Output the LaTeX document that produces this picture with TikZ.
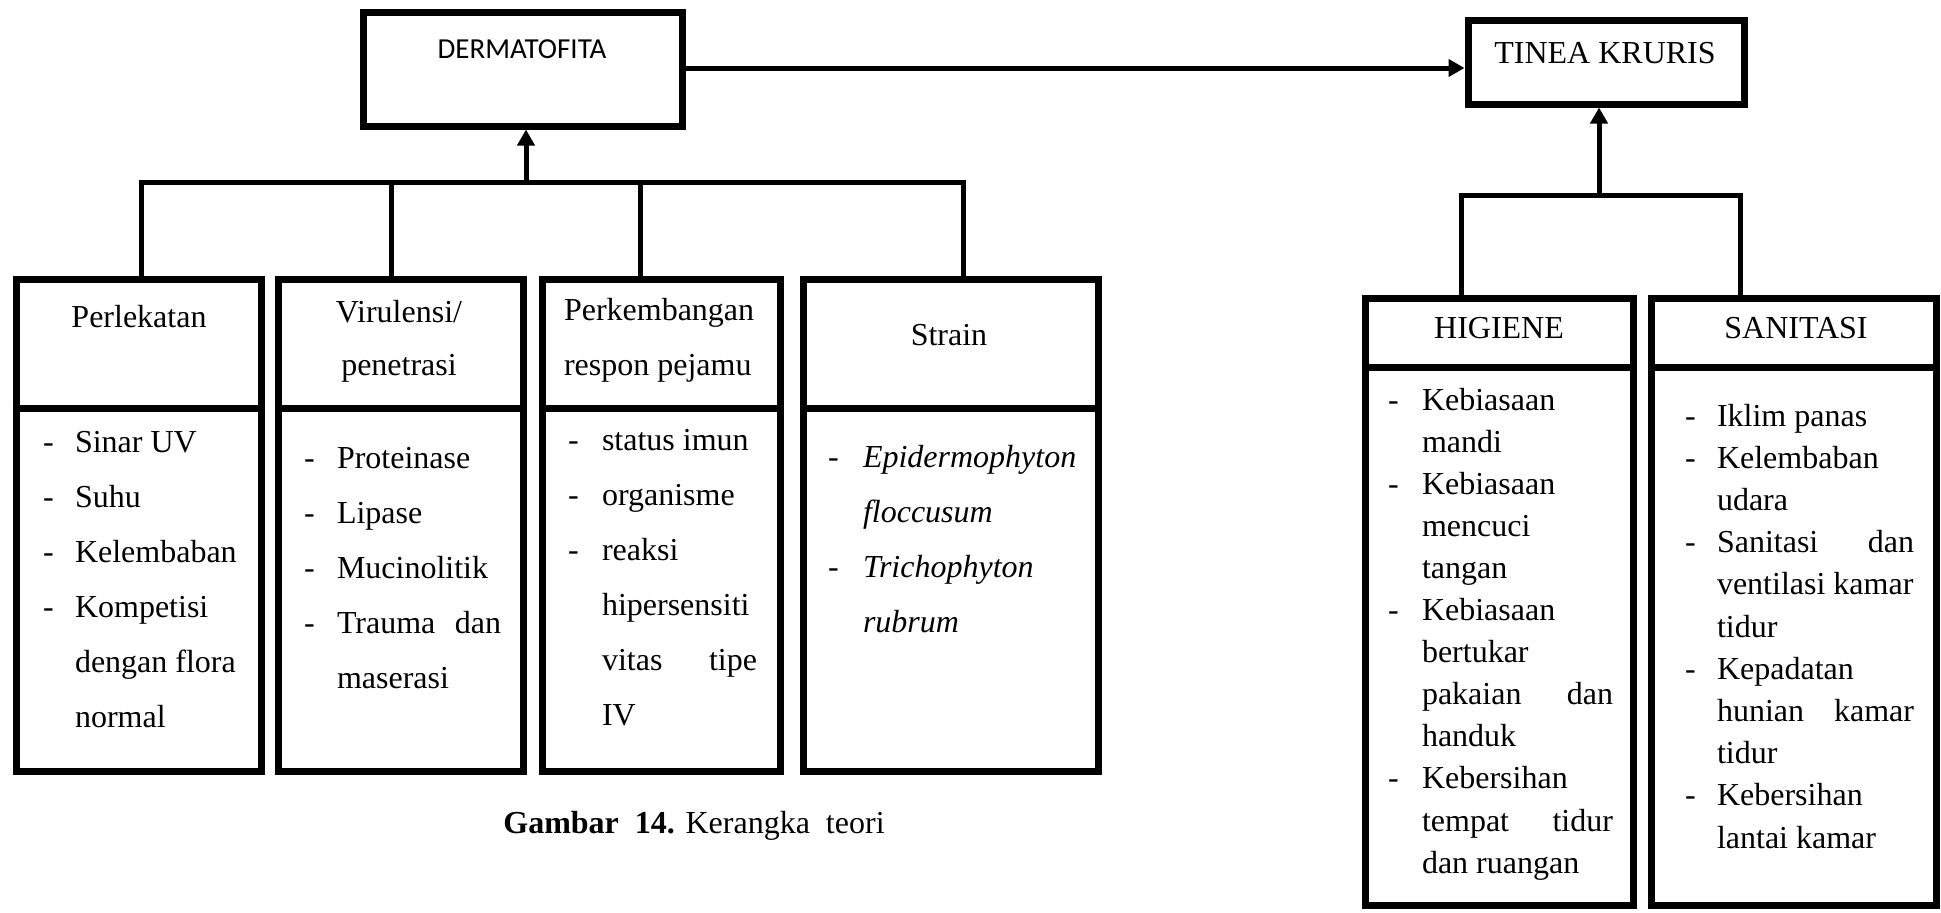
\documentclass[tikz,border=0pt]{standalone}
\usepackage{fontspec}
\setmainfont{Liberation Serif}
\newfontfamily\calib{Carlito}
\usetikzlibrary{arrows.meta}
\tikzset{
  boxframe/.style={draw=black, line width=3.5pt, inner sep=0pt, rectangle},
  divline/.style={draw=black, line width=3.5pt},
  conn/.style={draw=black, line width=2.5pt},
  arrconn/.style={conn, -{Triangle[length=8pt,width=8.5pt]}},
  txt/.style={inner sep=0pt, outer sep=0pt, anchor=base west, font=\fontsize{16pt}{18pt}\selectfont},
  txtc/.style={txt, anchor=base},
  txte/.style={txt, anchor=base east},
  itl/.style={txt, font=\fontsize{16pt}{18pt}\selectfont\itshape}
}
\begin{document}
\begin{tikzpicture}[x=0.5pt, y=-0.5pt]
\useasboundingbox (0,0) rectangle (1941,912);
\fill[white] (0,0) rectangle (1941,912);

% ---------- boxes ----------
\node[boxframe, minimum width=159.5pt, minimum height=57pt] (derm) at (522.5,69) {};
\node[boxframe, minimum width=138pt, minimum height=42pt] (tinea) at (1606,62) {};
\node[boxframe, minimum width=122.5pt, minimum height=246pt] (perl) at (138.5,525) {};
\node[boxframe, minimum width=122.5pt, minimum height=246pt] (viru) at (400.5,525) {};
\node[boxframe, minimum width=119pt, minimum height=246pt] (perk) at (661,525) {};
\node[boxframe, minimum width=147.5pt, minimum height=246pt] (strain) at (950.5,525) {};
\node[boxframe, minimum width=134pt, minimum height=303.5pt] (hig) at (1499,601.5) {};
\node[boxframe, minimum width=142.5pt, minimum height=303.5pt] (san) at (1793.5,601.5) {};

% dividers
\coordinate (dl) at (0,408);
\coordinate (dr) at (0,367);
\foreach \b in {perl,viru,perk,strain}{
  \draw[divline] (\b.west |- dl) -- (\b.east |- dl);
}
\foreach \b in {hig,san}{
  \draw[divline] (\b.west |- dr) -- (\b.east |- dr);
}

% ---------- connectors ----------
\coordinate (ay) at (0,68);
\draw[arrconn] (derm.east |- ay) -- (tinea.west |- ay);

\coordinate (j1) at (141,182);
\coordinate (j2) at (391,182);
\coordinate (j3) at (640,182);
\coordinate (j4) at (963,182);
\coordinate (ja) at (526,182);
\draw[conn] ([xshift=-1.25pt]j1) -- ([xshift=1.25pt]j4);
\draw[conn] (j1) -- (j1 |- perl.north);
\draw[conn] (j2) -- (j2 |- viru.north);
\draw[conn] (j3) -- (j3 |- perk.north);
\draw[conn] (j4) -- (j4 |- strain.north);
\draw[arrconn] (ja) -- (ja |- derm.south);

\coordinate (k1) at (1461,195);
\coordinate (k2) at (1740,195);
\coordinate (ka) at (1599,195);
\draw[conn] ([xshift=-1.25pt]k1) -- ([xshift=1.25pt]k2);
\draw[conn] (k1) -- (k1 |- hig.north);
\draw[conn] (k2) -- (k2 |- san.north);
\draw[arrconn] (ka) -- (ka |- tinea.south);

% ---------- headings ----------
\node[txtc, font=\calib\fontsize{14.5pt}{16pt}\selectfont] (tderm) at (522,58) {DERMATOFITA};
\node[txtc] (ttinea) at (1605,63) {TINEA KRURIS};
\node[txtc] (tperl) at (139,327) {Perlekatan};
\node[txtc] (tviru1) at (399,322) {Virulensi/};
\node[txtc] (tviru2) at (399,375) {penetrasi};
\node[txt] (tperk1) at (564,320) {Perkembangan};
\node[txt] (tperk2) at (564,375) {respon pejamu};
\node[txtc] (tstrain) at (949,345) {Strain};
\node[txtc] (thig) at (1499,338) {HIGIENE};
\node[txtc] (tsan) at (1796,338) {SANITASI};

% ---------- Perlekatan items ----------
\foreach \y in {452,507,562,617}{ \node[txt] at (43,\y) {-}; }
\node[txt] (p1) at (75,452) {Sinar UV};
\node[txt] (p2) at (75,507) {Suhu};
\node[txt] (p3) at (75,562) {Kelembaban};
\node[txt] (p4) at (75,617) {Kompetisi};
\node[txt] (p5) at (75,672) {dengan flora};
\node[txt] (p6) at (75,727) {normal};

% ---------- Virulensi items ----------
\foreach \y in {468,523,578,633}{ \node[txt] at (304,\y) {-}; }
\node[txt] (v1) at (337,468) {Proteinase};
\node[txt] (v2) at (337,523) {Lipase};
\node[txt] (v3) at (337,578) {Mucinolitik};
\node[txt] (v4a) at (337,633) {Trauma};
\node[txte] (v4b) at (501,633) {dan};
\node[txt] (v5) at (337,688) {maserasi};

% ---------- Perkembangan items ----------
\foreach \y in {450,505,560}{ \node[txt] at (568,\y) {-}; }
\node[txt] (r1) at (602,450) {status imun};
\node[txt] (r2) at (602,505) {organisme};
\node[txt] (r3) at (602,560) {reaksi};
\node[txt] (r4) at (602,615) {hipersensiti};
\node[txt] (r5a) at (602,670) {vitas};
\node[txte] (r5b) at (757,670) {tipe};
\node[txt] (r6) at (602,725) {IV};

% ---------- Strain items ----------
\foreach \y in {467,577}{ \node[txt] at (828,\y) {-}; }
\node[itl] (s1) at (863,467) {Epidermophyton};
\node[itl] (s2) at (863,522) {floccusum};
\node[itl] (s3) at (863,577) {Trichophyton};
\node[itl] (s4) at (863,632) {rubrum};

% ---------- HIGIENE items ----------
\foreach \k in {0,2,5,9}{ \node[txt] at (1388,410+42.1*\k) {-}; }
\node[txt] (h0) at (1422,410) {Kebiasaan};
\node[txt] (h1) at (1422,452.1) {mandi};
\node[txt] (h2) at (1422,494.2) {Kebiasaan};
\node[txt] (h3) at (1422,536.3) {mencuci};
\node[txt] (h4) at (1422,578.4) {tangan};
\node[txt] (h5) at (1422,620.5) {Kebiasaan};
\node[txt] (h6) at (1422,662.6) {bertukar};
\node[txt] (h7a) at (1422,704.7) {pakaian};
\node[txte] (h7b) at (1613,704.7) {dan};
\node[txt] (h8) at (1422,746.8) {handuk};
\node[txt] (h9) at (1422,788.9) {Kebersihan};
\node[txt] (h10a) at (1422,831) {tempat};
\node[txte] (h10b) at (1613,831) {tidur};
\node[txt] (h11) at (1422,873.1) {dan ruangan};

% ---------- SANITASI items ----------
\foreach \k in {0,1,3,6,9}{ \node[txt] at (1685,426+42.2*\k) {-}; }
\node[txt] (n0) at (1717,426) {Iklim panas};
\node[txt] (n1) at (1717,468.2) {Kelembaban};
\node[txt] (n2) at (1717,510.4) {udara};
\node[txt] (n3a) at (1717,552.6) {Sanitasi};
\node[txte] (n3b) at (1914,552.6) {dan};
\node[txt] (n4) at (1717,594.8) {ventilasi kamar};
\node[txt] (n5) at (1717,637) {tidur};
\node[txt] (n6) at (1717,679.2) {Kepadatan};
\node[txt] (n7a) at (1717,721.4) {hunian};
\node[txte] (n7b) at (1914,721.4) {kamar};
\node[txt] (n8) at (1717,763.6) {tidur};
\node[txt] (n9) at (1717,805.8) {Kebersihan};
\node[txt] (n10) at (1717,848) {lantai kamar};

% ---------- caption ----------
\node[txtc] (cap) at (694,833) {\textbf{Gambar\ \ 14.} Kerangka\ \ teori};
\end{tikzpicture}
\end{document}
